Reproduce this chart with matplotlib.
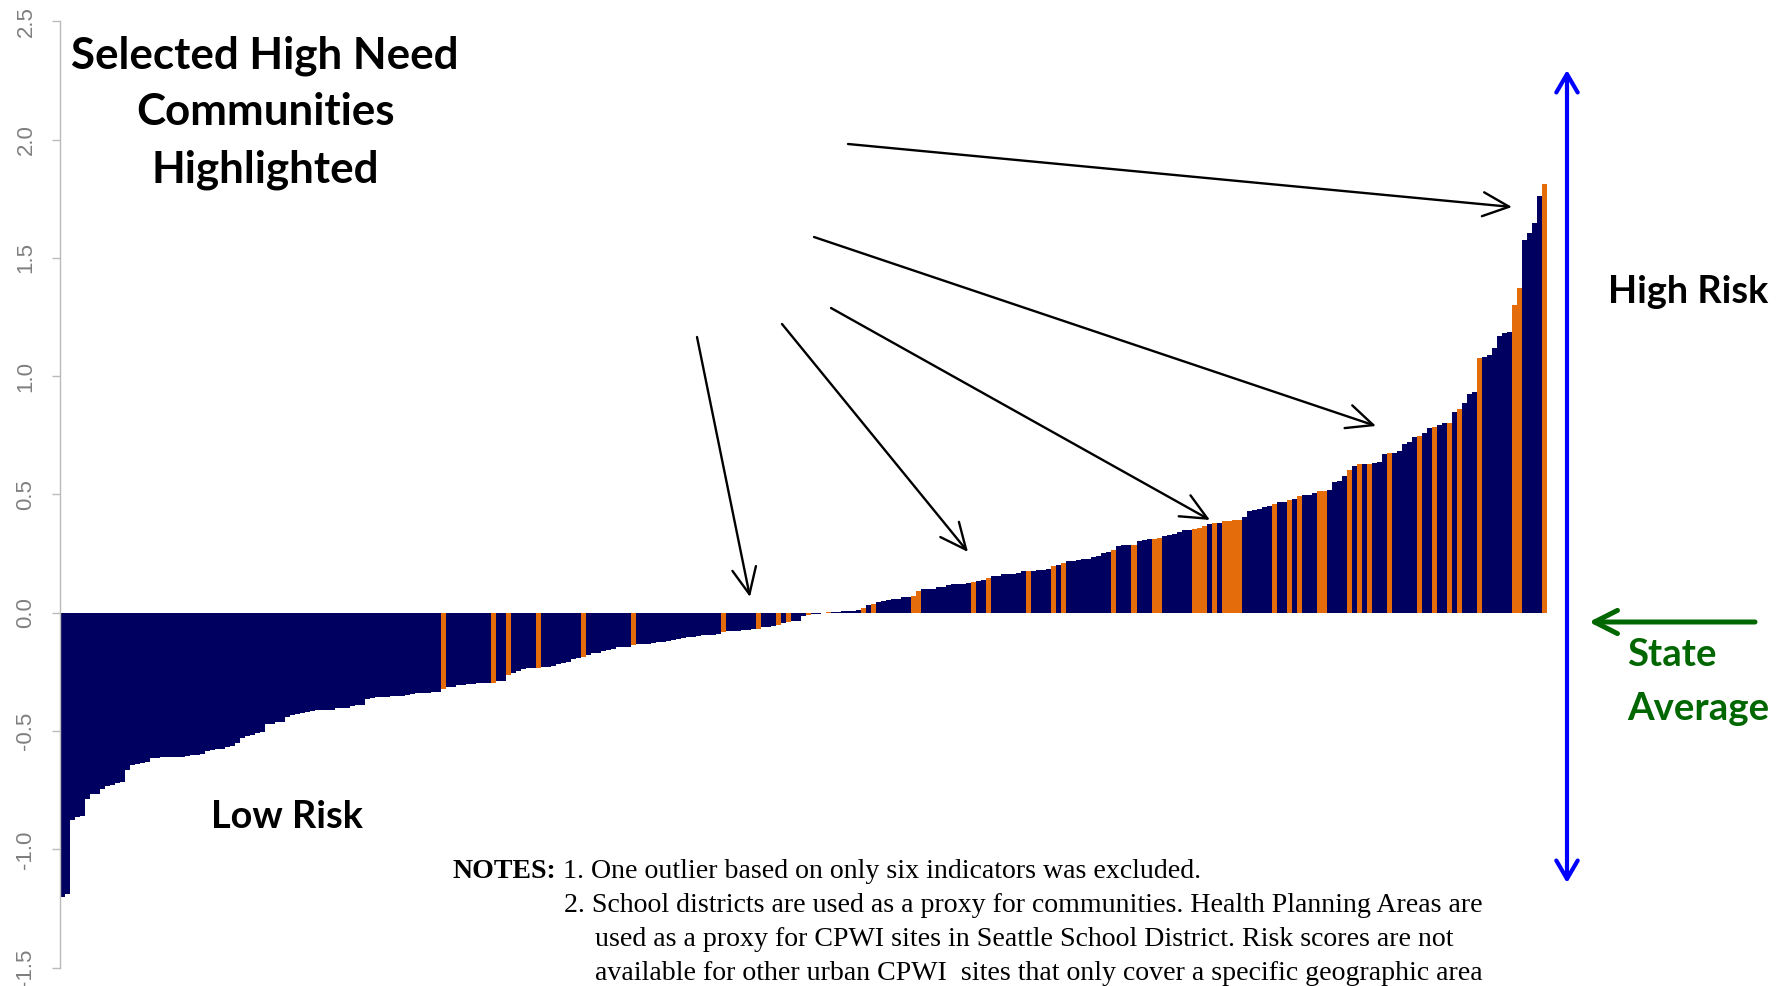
import matplotlib
matplotlib.use("Agg")
import matplotlib.pyplot as plt
from matplotlib.transforms import IdentityTransform
from matplotlib.patches import FancyArrowPatch
import numpy as np

# ---------------- data ----------------
risk_scores = [
    -1.200, -1.190, -0.875, -0.865, -0.860, -0.787, -0.768, -0.764, -0.744, -0.733,
    -0.729, -0.720, -0.716, -0.666, -0.644, -0.638, -0.635, -0.631, -0.614, -0.612,
    -0.611, -0.610, -0.610, -0.609, -0.608, -0.605, -0.603, -0.600, -0.598, -0.584,
    -0.582, -0.577, -0.575, -0.567, -0.565, -0.552, -0.528, -0.520, -0.516, -0.508,
    -0.506, -0.471, -0.469, -0.463, -0.461, -0.442, -0.430, -0.426, -0.424, -0.420,
    -0.415, -0.413, -0.411, -0.410, -0.409, -0.404, -0.403, -0.402, -0.396, -0.391,
    -0.389, -0.364, -0.362, -0.357, -0.356, -0.355, -0.353, -0.352, -0.351, -0.347,
    -0.342, -0.338, -0.337, -0.337, -0.336, -0.335, -0.321, -0.314, -0.312, -0.307,
    -0.305, -0.302, -0.300, -0.298, -0.297, -0.296, -0.296, -0.290, -0.288, -0.262,
    -0.255, -0.248, -0.236, -0.235, -0.234, -0.234, -0.231, -0.229, -0.224, -0.216,
    -0.211, -0.209, -0.194, -0.192, -0.185, -0.179, -0.171, -0.169, -0.161, -0.159,
    -0.154, -0.146, -0.145, -0.144, -0.135, -0.132, -0.131, -0.130, -0.126, -0.124,
    -0.122, -0.120, -0.117, -0.111, -0.105, -0.103, -0.101, -0.099, -0.094, -0.093,
    -0.092, -0.090, -0.083, -0.078, -0.077, -0.076, -0.074, -0.072, -0.069, -0.068,
    -0.062, -0.060, -0.055, -0.052, -0.044, -0.039, -0.035, -0.033, -0.013, -0.008,
    -0.006, -0.005, -0.002, 0.002, 0.003, 0.004, 0.006, 0.007, 0.008, 0.013,
    0.020, 0.032, 0.038, 0.045, 0.051, 0.053, 0.057, 0.059, 0.065, 0.067,
    0.072, 0.093, 0.100, 0.101, 0.102, 0.107, 0.109, 0.118, 0.122, 0.123,
    0.123, 0.124, 0.131, 0.135, 0.139, 0.145, 0.154, 0.156, 0.163, 0.164,
    0.165, 0.166, 0.175, 0.175, 0.176, 0.180, 0.182, 0.185, 0.199, 0.203,
    0.210, 0.219, 0.220, 0.221, 0.227, 0.229, 0.237, 0.239, 0.253, 0.255,
    0.266, 0.284, 0.286, 0.287, 0.287, 0.304, 0.308, 0.310, 0.313, 0.314,
    0.323, 0.330, 0.332, 0.340, 0.348, 0.350, 0.355, 0.360, 0.365, 0.375,
    0.379, 0.380, 0.386, 0.389, 0.390, 0.393, 0.404, 0.431, 0.433, 0.438,
    0.448, 0.450, 0.461, 0.468, 0.470, 0.478, 0.482, 0.492, 0.496, 0.498,
    0.506, 0.513, 0.515, 0.517, 0.554, 0.556, 0.576, 0.604, 0.621, 0.627,
    0.627, 0.627, 0.633, 0.638, 0.671, 0.675, 0.675, 0.685, 0.714, 0.720,
    0.741, 0.749, 0.759, 0.779, 0.785, 0.793, 0.802, 0.802, 0.847, 0.861,
    0.886, 0.924, 0.931, 1.076, 1.081, 1.090, 1.119, 1.168, 1.182, 1.188,
    1.299, 1.374, 1.576, 1.605, 1.647, 1.760, 1.810,
]

# positions (rank order) of the selected high need communities
highlighted = [76, 86, 89, 95, 104, 114, 132, 139, 143, 145, 149, 153, 160, 162,
               170, 171, 182, 185, 193, 198, 200, 210, 214, 218, 219, 226, 227,
               228, 230, 232, 233, 234, 235, 242, 245, 247, 251, 252, 257, 259,
               261, 265, 271, 274, 277, 279, 283, 290, 291, 296]

y_ticks = [-1.5, -1.0, -0.5, 0.0, 0.5, 1.0, 1.5, 2.0, 2.5]
y_tick_labels = ["-1.5", "-1.0", "-0.5", "0.0", "0.5", "1.0", "1.5", "2.0", "2.5"]

title_lines = ["Selected High Need", "Communities", "Highlighted"]
notes_lines = [
    "1. One outlier based on only six indicators was excluded.",
    "2. School districts are used as a proxy for communities. Health Planning Areas are",
    "used as a proxy for CPWI sites in Seattle School District. Risk scores are not",
    "available for other urban CPWI  sites that only cover a specific geographic area",
]

# ---------------- style ----------------
NAVY = "#000060"
ORANGE = "#E46C0A"
BLUE = "#0000FF"
GREEN = "#006600"
W, H = 1783, 986
BOLD_SANS = ["Lato", "DejaVu Sans"]
SERIF = ["Liberation Serif", "DejaVu Serif"]

fig = plt.figure(figsize=(W / 100, H / 100), dpi=100)

# axes placement (pixels measured on the reference)
ax_left_px, ax_top_px, ax_bottom_px = 60, 21.2, 967.7
bar_px = 5.007
ax = fig.add_axes([ax_left_px / W, (H - ax_bottom_px) / H,
                   (W - ax_left_px) / W, (ax_bottom_px - ax_top_px) / H])

n = len(risk_scores)
idx = np.arange(n)
hl = set(highlighted)
colors = [ORANGE if i in hl else NAVY for i in idx]
ax.bar(idx, risk_scores, width=1.0, align="edge", color=colors,
       linewidth=0, antialiased=False)

ax.set_ylim(-1.5, 2.5)
ax.set_xlim(0, (W - ax_left_px) / bar_px)
for s in ["top", "right", "bottom"]:
    ax.spines[s].set_visible(False)
ax.spines["left"].set_color("#BBBBBB")
ax.spines["left"].set_linewidth(1.0)
ax.set_xticks([])
ax.set_yticks(y_ticks)
ax.set_yticklabels(y_tick_labels, rotation=90, va="center",
                   family=["Liberation Sans"], fontsize=16, color="#7F7F7F")
ax.tick_params(axis="y", direction="out", length=6, width=1.0,
               color="#BBBBBB", pad=11)


def P(x, y):
    """reference image pixel (from top-left) -> figure pixels"""
    return (x, H - y)


renderer = fig.canvas.get_renderer()


def fit_width(t, target):
    w = t.get_window_extent(renderer).width
    t.set_fontsize(t.get_fontsize() * target / w)


def ptext(x, y, s, **kw):
    return fig.text(*P(x, y), s, transform=IdentityTransform(),
                    va="baseline", **kw)


# ---------------- title ----------------
t0 = ptext(265, 68, title_lines[0], ha="center", fontsize=30,
           fontweight="bold", family=BOLD_SANS)
fit_width(t0, 387)
fs_title = t0.get_fontsize()
for line, yb in zip(title_lines[1:], [125, 183]):
    ptext(265, yb, line, ha="center", fontsize=fs_title,
          fontweight="bold", family=BOLD_SANS)

# ---------------- risk labels ----------------
hr = ptext(1608, 303, "High Risk", ha="left", fontsize=26,
           fontweight="bold", family=BOLD_SANS)
fit_width(hr, 160)
ptext(211, 828, "Low Risk", ha="left", fontsize=hr.get_fontsize(),
      fontweight="bold", family=BOLD_SANS)

st = ptext(1627, 666, "State", ha="left", fontsize=24, fontweight="bold",
           family=BOLD_SANS, color=GREEN)
av = ptext(1627, 720, "Average", ha="left", fontsize=24, fontweight="bold",
           family=BOLD_SANS, color=GREEN)
fit_width(av, 142)
st.set_fontsize(av.get_fontsize())

# ---------------- notes ----------------
n2 = ptext(564, 912, notes_lines[1], ha="left", fontsize=18, family=SERIF)
fit_width(n2, 919)
fs_notes = n2.get_fontsize()
ptext(556, 878, "NOTES:", ha="right", fontsize=fs_notes, fontweight="bold",
      family=SERIF)
ptext(563, 878, notes_lines[0], ha="left", fontsize=fs_notes, family=SERIF)
ptext(595, 946, notes_lines[2], ha="left", fontsize=fs_notes, family=SERIF)
ptext(595, 980, notes_lines[3], ha="left", fontsize=fs_notes, family=SERIF)

# ---------------- arrows ----------------
black_arrows = [((848, 144), (1512, 207)),
                ((814, 237), (1376, 426)),
                ((831, 308), (1210, 520)),
                ((782, 324), (968, 552)),
                ((697, 337), (750, 597))]
for (x0, y0), (x1, y1) in black_arrows:
    fig.add_artist(FancyArrowPatch(
        P(x0, y0), P(x1, y1), transform=IdentityTransform(),
        arrowstyle="->,head_length=0.7,head_width=0.32", mutation_scale=27,
        lw=1.7, color="black", shrinkA=0, shrinkB=0))

fig.add_artist(FancyArrowPatch(
    P(1567, 883), P(1567, 70), transform=IdentityTransform(),
    arrowstyle="<->,head_length=0.6,head_width=0.35", mutation_scale=22,
    lw=3.0, color=BLUE, shrinkA=0, shrinkB=0, capstyle="round",
    joinstyle="round"))

fig.add_artist(FancyArrowPatch(
    P(1755, 622), P(1589, 622), transform=IdentityTransform(),
    arrowstyle="->,head_length=0.75,head_width=0.38", mutation_scale=22,
    lw=3.6, color=GREEN, shrinkA=0, shrinkB=0, capstyle="round",
    joinstyle="round"))

fig.savefig("out.png", dpi=100)
